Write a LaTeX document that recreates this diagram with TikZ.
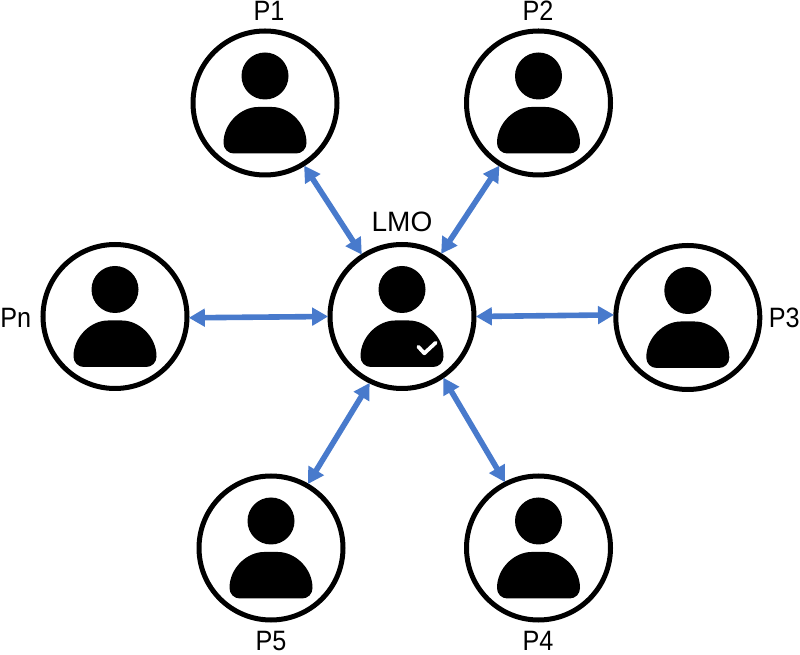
\documentclass[tikz,border=0pt]{standalone}
\usepackage{fontspec}
\setmainfont{Liberation Sans}
\newfontfamily\narrowsans[FakeStretch=0.9]{Liberation Sans}
\usetikzlibrary{arrows.meta}
\definecolor{linkblue}{RGB}{72,122,204}
\tikzset{
  x=0.75pt,y=-0.75pt,
  personring/.style={circle,draw=black,line width=3.75pt,fill=white,minimum size=108pt,inner sep=0pt},
  tag/.style={font=\fontsize{21pt}{24pt}\selectfont,text=black,inner sep=0pt,anchor=base},
  ptag/.style={font=\narrowsans\fontsize{21pt}{24pt}\selectfont,text=black,inner sep=0pt,anchor=base},
  sidetag/.style={ptag,anchor=base west},
  link/.style={draw=linkblue,line width=4.2pt,{Triangle[length=12pt,width=13pt]}-{Triangle[length=12pt,width=13pt]},shorten >=-0.5pt,shorten <=-0.5pt},
  pics/person/.style={code={
    \fill[black] (0,-27) circle[radius=23.5];
    \fill[black] (-31,50.5) .. controls (-37,50.5) and (-41.5,46) .. (-41.5,40)
       .. controls (-41.5,20) and (-24,4) .. (-7,4) -- (7,4)
       .. controls (24,4) and (41.5,20) .. (41.5,40)
       .. controls (41.5,46) and (37,50.5) .. (31,50.5) -- cycle;
  }}
}
\begin{document}
\begin{tikzpicture}
\useasboundingbox (0,0) rectangle (800,655);
\node[personring] (P1) at (265,103) {};
\node[personring] (P2) at (538.5,103) {};
\node[personring] (Pn) at (115,316.5) {};
\node[personring] (LMO) at (402,316.5) {};
\node[personring] (P3) at (687.8,317.5) {};
\node[personring] (P5) at (271,548) {};
\node[personring] (P4) at (538.5,548) {};
\foreach \n in {P1,P2,Pn,LMO,P3,P5,P4} { \pic at (\n.center) {person}; }
\draw[white,line width=2.8pt,line cap=round,line join=round] ([shift={(16.3,30.2)}]LMO.center) coordinate (ck) -- ++(6,6.6) -- ++(11.4,-10.6);
\node[ptag] (lP1) at (269,20.7) {P1};
\node[ptag] (lP2) at (538,20.7) {P2};
\node[tag] (lLMO) at (402,231.7) {LMO};
\node[sidetag] (lPn) at (0,328) {Pn};
\node[sidetag] (lP3) at (768.5,328) {P3};
\node[ptag] (lP5) at (271,650) {P5};
\node[ptag] (lP4) at (538,650) {P4};
\draw[link] (P1.-58) -- (LMO.123.4);
\draw[link] (P2.-122) -- (LMO.58);
\draw[link] (Pn.-1.4) -- (LMO.180);
\draw[link] (P3.178.4) -- (LMO.0);
\draw[link] (P5.60.7) -- (LMO.-116.7);
\draw[link] (P4.117.4) -- (LMO.-56.4);
\end{tikzpicture}
\end{document}
